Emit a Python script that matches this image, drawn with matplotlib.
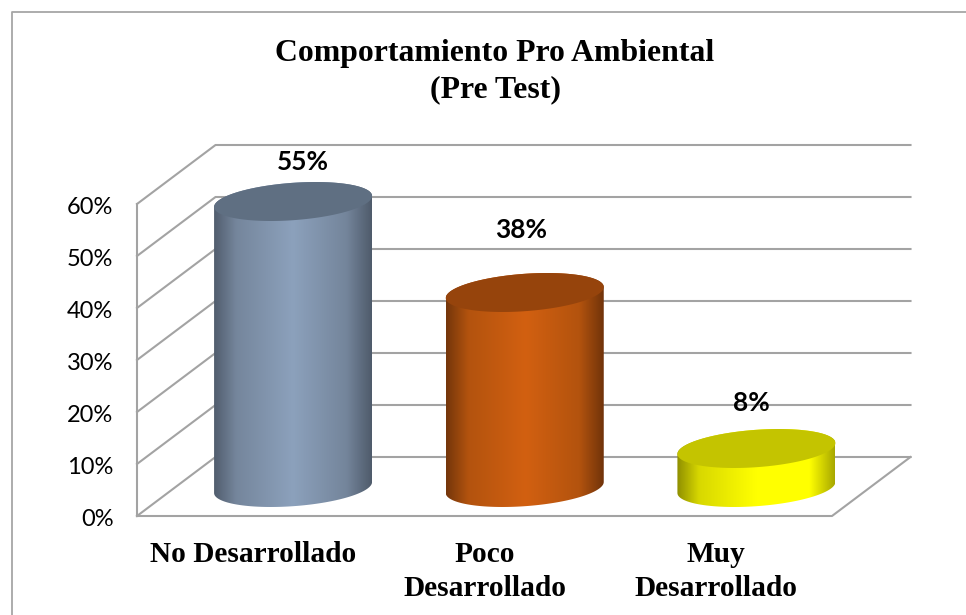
import numpy as np
import matplotlib
matplotlib.use("Agg")
import matplotlib.pyplot as plt
from matplotlib.colors import LinearSegmentedColormap
from matplotlib.lines import Line2D
from matplotlib.patches import Polygon
from matplotlib.transforms import ScaledTranslation

categories = ["No Desarrollado", "Poco\nDesarrollado", "Muy\nDesarrollado"]
values = [55, 37.5, 7.5]
value_labels = ["55%", "38%", "8%"]
y_ticks = [0, 10, 20, 30, 40, 50, 60]
title_lines = ["Comportamiento Pro Ambiental", "(Pre Test)"]

# styling
W, H = 966, 615
L, R, B, T = 137, 832, 516, 204          # front plane, in pixels
DEPTH_X, DEPTH_Y = 78.5, 59              # depth of the 3D box, in pixels
SEMI_A, SEMI_B, SHEAR = 79, 18.7, 5.5    # cylinder ellipses, in pixels
GRID = "#a3a3a3"
side_ramps = [
    ["#515d6e", "#75869c", "#8ca1bc", "#74859b", "#4f5b6b"],
    ["#74360b", "#b3530e", "#d26011", "#b3530e", "#6e320a"],
    ["#8f8f00", "#d8d800", "#ffff00", "#ffff00", "#a8a800"],
]
ramp_stops = [0.0, 0.14, 0.5, 0.84, 1.0]
top_colors = ["#5f6f82", "#96440c", "#c4c400"]
label_offsets = [(10, 39), (-4, 62.6), (-5, 45.6)]  # px from cylinder-top centre

fig = plt.figure(figsize=(W / 100, H / 100), dpi=100, facecolor="white")
ax = fig.add_axes([L / W, 1 - B / H, (R - L) / W, (B - T) / H])
ax.set_xlim(0, len(categories))
ax.set_ylim(0, 60)
ax.patch.set_visible(False)
for s in ax.spines.values():
    s.set_visible(False)

px_x = len(categories) / (R - L)
px_y = 60 / (B - T)
dx = DEPTH_X * px_x
dy = DEPTH_Y * px_y

# box: left wall, back wall, floor
line_kw = dict(color=GRID, lw=1.5, clip_on=False, zorder=1, solid_capstyle="projecting")
for t in y_ticks:
    ax.plot([0, dx, len(categories) + dx], [t, t + dy, t + dy], **line_kw)
ax.plot([0, 0], [0, 60], **line_kw)
ax.plot([0, len(categories), len(categories) + dx], [0, 0, dy], **line_kw)


def ellipse(cx, cy, t):
    return (cx + SEMI_A * px_x * np.cos(t),
            cy + (SHEAR * np.cos(t) + SEMI_B * np.sin(t)) * px_y)


for i, v in enumerate(values):
    cx = i + 0.5 + dx / 2 + 1 * px_x
    base = dy / 2 - 1 * px_y
    top = base + v
    t1 = np.linspace(np.pi, 2 * np.pi, 80)
    t2 = np.linspace(0, np.pi, 80)
    bx, by = ellipse(cx, base, t1)
    tx, ty = ellipse(cx, top, t2)
    verts = np.column_stack([np.r_[bx, tx], np.r_[by, ty]])
    clip = Polygon(verts, closed=True, transform=ax.transData, fc="none", ec="none")
    ax.add_patch(clip)
    cmap = LinearSegmentedColormap.from_list("c", list(zip(ramp_stops, side_ramps[i])))
    im = ax.imshow(np.linspace(0, 1, 256)[None, :], cmap=cmap, aspect="auto",
                   extent=(cx - SEMI_A * px_x, cx + SEMI_A * px_x, by.min(), ty.max()),
                   zorder=2, interpolation="bilinear")
    im.set_clip_box(fig.bbox)
    im.set_clip_path(clip)
    tt = np.linspace(0, 2 * np.pi, 160)
    ex, ey = ellipse(cx, top, tt)
    ax.add_patch(Polygon(np.column_stack([ex, ey]), closed=True, fc=top_colors[i],
                         ec="none", zorder=3, clip_on=False))
    ox, oy = label_offsets[i]
    ax.annotate(value_labels[i], xy=(cx, top), xytext=(ox * 0.72, oy * 0.72),
                textcoords="offset points", ha="center", va="center",
                fontsize=18.9, fontweight="bold", family="Lato", color="black",
                zorder=5, annotation_clip=False)

ax.set_xlim(0, len(categories))
ax.set_ylim(0, 60)
ax.set_yticks(y_ticks)
ax.set_yticklabels([f"{t}%" for t in y_ticks], family="Lato", fontsize=17, color="black")
ax.set_xticks(np.arange(len(categories)) + 0.5)
ax.set_xticklabels(categories, family="Liberation Serif", fontweight="bold",
                   fontsize=21.2, color="black", linespacing=1.32)
ax.tick_params(axis="y", length=0, pad=17)
ax.tick_params(axis="x", length=0, pad=18)
shift_down = ScaledTranslation(0, -1.4 / 72, fig.dpi_scale_trans)
for lab in ax.get_yticklabels():
    lab.set_transform(lab.get_transform() + shift_down)

fig.text(495 / W, 1 - 54 / H, title_lines[0], ha="center", va="center",
         family="Liberation Serif", fontweight="bold", fontsize=22.85)
fig.text(495 / W, 1 - 90 / H, title_lines[1], ha="center", va="center",
         family="Liberation Serif", fontweight="bold", fontsize=22.85)

# outer frame: only left and top are inside the picture
fig.add_artist(Line2D([11.5 / W, 11.5 / W, 1], [0, 1 - 11.5 / H, 1 - 11.5 / H],
                      color="#a6a6a6", lw=1.3, transform=fig.transFigure))

fig.savefig("out.png", dpi=100)
